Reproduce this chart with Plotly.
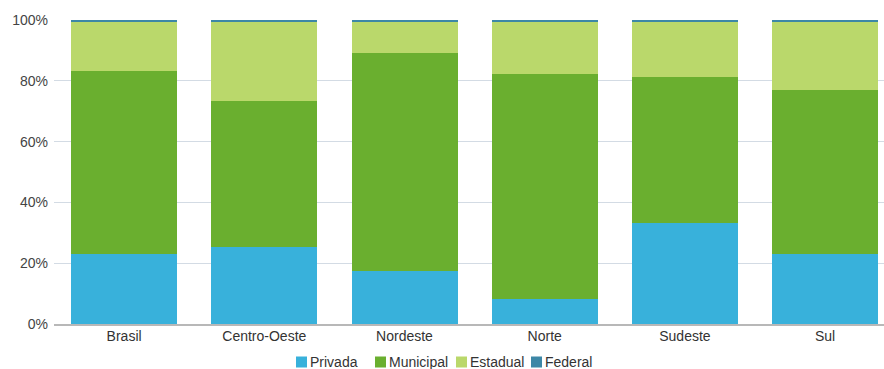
import plotly.graph_objects as go

regioes = ["Brasil", "Centro-Oeste", "Nordeste", "Norte", "Sudeste", "Sul"]

# share of each network (%), stacked bottom to top
privada = [23.0, 25.3, 17.4, 8.2, 33.2, 23.0]
municipal = [60.2, 48.1, 71.7, 74.0, 48.0, 54.0]
federal = [0.5, 0.5, 0.5, 0.5, 0.5, 0.5]
estadual = [round(100 - p - m - f, 1) for p, m, f in zip(privada, municipal, federal)]

series = [
    ("Privada", privada, "#38b1db"),
    ("Municipal", municipal, "#6aaf2f"),
    ("Estadual", estadual, "#bad86b"),
    ("Federal", federal, "#3d87a6"),
]

fig = go.Figure()
for nome, vals, cor in series:
    fig.add_trace(go.Bar(
        x=regioes, y=vals, name=nome,
        marker=dict(color=cor, line=dict(width=0)),
        width=0.756, hoverinfo="skip", showlegend=False,
    ))

# compact legend row under the axis: swatch + label, pixel layout converted to paper units
PLOT_L, PLOT_W, PLOT_B, PLOT_H = 54, 830, 324, 304
legend_x = [296, 375, 456, 531]   # swatch left edges (px)
sw, y_mid = 11, 362


def px_x(p):
    return (p - PLOT_L) / PLOT_W


def px_y(p):
    return (PLOT_B - p) / PLOT_H


shapes, annotations = [], []
for (nome, _, cor), lx in zip(series, legend_x):
    shapes.append(dict(
        type="rect", xref="paper", yref="paper",
        x0=px_x(lx), x1=px_x(lx + sw),
        y0=px_y(y_mid + sw / 2), y1=px_y(y_mid - sw / 2),
        fillcolor=cor, line=dict(width=0), layer="above",
    ))
    annotations.append(dict(
        text=nome, xref="paper", yref="paper",
        x=px_x(lx + sw + 2), y=px_y(y_mid), xanchor="left", yanchor="middle",
        showarrow=False, borderpad=0,
        font=dict(size=14, color="#333333"),
    ))

fig.update_layout(
    barmode="stack",
    width=884, height=369,
    margin=dict(l=PLOT_L, r=0, t=20, b=45, autoexpand=False),
    paper_bgcolor="white", plot_bgcolor="white",
    font=dict(family="Liberation Sans, Arial, sans-serif", size=14, color="#444444"),
    showlegend=False,
    shapes=shapes,
    annotations=annotations,
    xaxis=dict(
        range=[-0.5, 5.42], showgrid=False, showline=True,
        linecolor="#b8b8b8", linewidth=2, ticks="", fixedrange=True,
        ticklabelstandoff=-2,
        tickfont=dict(size=14, color="#333333"),
    ),
    yaxis=dict(
        range=[0, 100], tickvals=[0, 20, 40, 60, 80, 100],
        ticktext=["0%", "20%", "40%", "60%", "80%", "100%"],
        showgrid=True, gridcolor="#d3dbe4", gridwidth=1,
        zeroline=False, showline=False, ticks="", ticklen=0,
        ticklabelstandoff=5,
        tickfont=dict(size=14, color="#444444"),
    ),
)

fig.write_html("out.html")
